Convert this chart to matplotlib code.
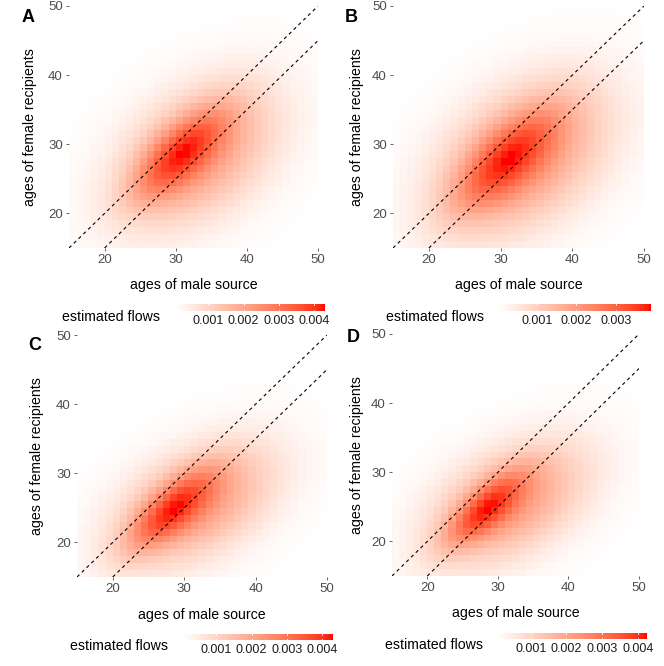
import numpy as np
import matplotlib
matplotlib.use("Agg")
import matplotlib.pyplot as plt
from matplotlib.colors import ListedColormap, Normalize

# age grid (1-year cells, 15 to 50)
age_edges = np.arange(15, 51)
age_mid = age_edges[:-1] + 0.5

panel_tags = ["A", "B", "C", "D"]

# shape of the estimated flows (peak cell, spread)
core_male = [30.5, 30.5, 28.0, 28.0]
core_female = [28.5, 27.5, 24.5, 24.5]
core_sd_male = [4.5, 5.0, 4.2, 3.8]
core_sd_female = [4.5, 5.0, 4.0, 3.6]
core_rho = [0.72, 0.72, 0.75, 0.75]
wide_male = [33.0, 33.0, 31.5, 31.5]
wide_female = [28.5, 28.0, 25.5, 25.5]
wide_sd_male = [7.5, 8.0, 7.5, 7.5]
wide_sd_female = [7.0, 7.5, 6.0, 6.0]
wide_rho = [0.4, 0.4, 0.45, 0.45]
wide_share = [0.5, 0.55, 0.5, 0.5]
peak_flow = [0.00432, 0.0039, 0.00432, 0.00426]
low_flow = [0.00005, 0.00003, 0.00005, 0.00005]

cbar_ticks = [
    [0.001, 0.002, 0.003, 0.004],
    [0.001, 0.002, 0.003],
    [0.001, 0.002, 0.003, 0.004],
    [0.001, 0.002, 0.003, 0.004],
]
axis_ticks = [20, 30, 40, 50]


def gauss(mx, my, sx, sy, rho):
    X, Y = np.meshgrid(age_mid, age_mid)
    u = (X - mx) / sx
    v = (Y - my) / sy
    q = (u**2 - 2 * rho * u * v + v**2) / (1 - rho**2)
    return np.exp(-q / 2)


def flows(i):
    z = (1 - wide_share[i]) * gauss(core_male[i], core_female[i], core_sd_male[i], core_sd_female[i], core_rho[i]) \
        + wide_share[i] * gauss(wide_male[i], wide_female[i], wide_sd_male[i], wide_sd_female[i], wide_rho[i])
    z = (z - z.min()) / (z.max() - z.min())
    return low_flow[i] + z * (peak_flow[i] - low_flow[i])


def lab_to_rgb(L, a, b):
    fy = (L + 16) / 116
    fx = fy + a / 500
    fz = fy - b / 200

    def finv(t):
        return np.where(t > 6 / 29, t**3, 3 * (6 / 29) ** 2 * (t - 4 / 29))

    X = 0.95047 * finv(fx)
    Y = finv(fy)
    Z = 1.08883 * finv(fz)
    r = 3.2406 * X - 1.5372 * Y - 0.4986 * Z
    g = -0.9689 * X + 1.8758 * Y + 0.0415 * Z
    bb = 0.0557 * X - 0.2040 * Y + 1.0570 * Z
    rgb = np.stack([r, g, bb], axis=-1)
    rgb = np.clip(rgb, 0, 1)
    rgb = np.where(rgb <= 0.0031308, 12.92 * rgb, 1.055 * rgb ** (1 / 2.4) - 0.055)
    return np.clip(rgb, 0, 1)


# white -> red, interpolated in Lab like ggplot does
t = np.linspace(0, 1, 256)
cmap = ListedColormap(lab_to_rgb(100 + t * (53.24 - 100), t * 80.09, t * 67.20))

plt.rcParams["font.family"] = ["Liberation Sans", "DejaVu Sans"]

W, H = 664, 666
fig = plt.figure(figsize=(W / 100, H / 100), dpi=100)


def px(x0, y0, x1, y1):
    return [x0 / W, 1 - y1 / H, (x1 - x0) / W, (y1 - y0) / H]


plot_boxes = [(69, 6, 318, 248), (393, 6, 644, 248), (77, 335, 327, 577), (392, 334, 639, 576)]
cbar_boxes = [(175, 304, 325, 311), (499, 304, 651, 311), (183, 634, 333, 640), (497, 633, 647, 639)]
legend_pos = [(62, 317), (386, 317), (70, 646), (385, 645)]
tag_pos = [(28, 18), (351, 18), (35, 345), (353, 337)]
ylab_x = [30, 357, 37, 357]
xlab_y = [285, 285, 615, 613]

for i in range(4):
    ax = fig.add_axes(px(*plot_boxes[i]))
    z = flows(i)
    norm = Normalize(vmin=z.min(), vmax=z.max())
    mesh = ax.pcolormesh(age_edges, age_edges, z, cmap=cmap, norm=norm, shading="flat", antialiased=False)
    ax.plot([15, 50], [15, 50], ls=(0, (3, 3)), color="black", lw=0.8)
    ax.plot([20, 50], [15, 45], ls=(0, (3, 3)), color="black", lw=0.8)
    ax.set_xlim(15, 50)
    ax.set_ylim(15, 50)
    ax.set_xticks(axis_ticks)
    ax.set_yticks(axis_ticks)
    for s in ax.spines.values():
        s.set_visible(False)
    ax.tick_params(length=2.5, width=0.6, color="#4d4d4d", labelcolor="#4d4d4d", labelsize=9.5, pad=2)

    x0, y0, x1, y1 = plot_boxes[i]
    fig.text(ylab_x[i] / W, 1 - ((y0 + y1) / 2) / H, "ages of female recipients",
             rotation=90, ha="center", va="center", fontsize=10.2)
    fig.text(((x0 + x1) / 2) / W, 1 - xlab_y[i] / H, "ages of male source",
             ha="center", va="center", fontsize=10.2)
    fig.text(tag_pos[i][0] / W, 1 - tag_pos[i][1] / H, panel_tags[i],
             ha="center", va="center", fontsize=13, fontweight="bold")

    cax = fig.add_axes(px(*cbar_boxes[i]))
    cb = fig.colorbar(mesh, cax=cax, orientation="horizontal")
    cb.outline.set_visible(False)
    cb.set_ticks(cbar_ticks[i])
    cb.set_ticklabels([f"{v:.3f}" for v in cbar_ticks[i]])
    cax.tick_params(length=0, labelsize=9, pad=3, labelcolor="#1a1a1a")
    for v in cbar_ticks[i]:
        cax.axvline(v, 0, 0.2, color="white", lw=0.6)
        cax.axvline(v, 0.8, 1, color="white", lw=0.6)
    fig.text(legend_pos[i][0] / W, 1 - legend_pos[i][1] / H, "estimated flows",
             ha="left", va="center", fontsize=10.2)

fig.savefig("out.png", dpi=100)
